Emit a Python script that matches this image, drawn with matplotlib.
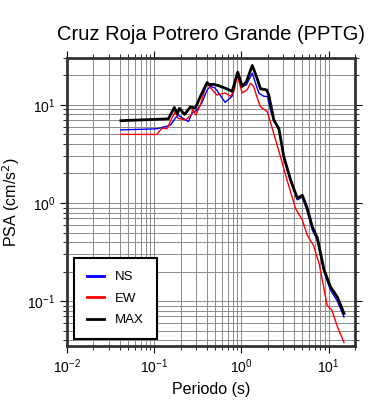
import matplotlib
matplotlib.use('Agg')
import matplotlib.pyplot as plt
from matplotlib.ticker import LogLocator, NullFormatter

plt.rcParams['font.family'] = ['Liberation Sans', 'DejaVu Sans']

# periodo (s) y PSA (cm/s2)
t_max = [0.0414, 0.145, 0.170, 0.184, 0.194, 0.223, 0.259, 0.296, 0.338, 0.404,
         0.428, 0.477, 0.544, 0.685, 0.782, 0.906, 1.02, 1.14, 1.33, 1.51,
         1.65, 1.94, 2.06, 2.35, 2.69, 3.06, 3.66, 4.37, 4.99, 5.69,
         6.50, 7.42, 8.84, 10.5, 12.6, 15.0]
psa_max = [6.9, 7.2, 9.4, 8.1, 9.2, 8.0, 9.5, 9.3, 12.2, 16.9,
           16.0, 16.2, 15.7, 14.5, 13.7, 21.6, 15.4, 17.3, 25.2, 18.7,
           14.6, 14.2, 12.6, 7.0, 5.7, 2.97, 1.72, 1.12, 1.2, 0.88,
           0.57, 0.44, 0.21, 0.14, 0.11, 0.075]

t_ns = [0.0414, 0.107, 0.153, 0.186, 0.208, 0.247, 0.270, 0.31, 0.35, 0.404,
        0.44, 0.50, 0.65, 0.78, 0.89, 1.02, 1.14, 1.33, 1.58, 1.81,
        1.98, 2.2, 2.69, 3.06, 3.66, 4.37, 4.99, 5.69, 6.50, 7.42,
        8.84, 10.5, 12.6, 15.0]
psa_ns = [5.56, 5.7, 6.2, 7.9, 7.4, 6.76, 8.2, 8.9, 10.4, 14.2,
          15.4, 14.8, 10.6, 12.2, 20.2, 15.4, 16.0, 21.0, 13.2, 12.2,
          12.2, 8.2, 5.5, 2.9, 1.68, 1.08, 1.15, 0.82, 0.53, 0.42,
          0.2, 0.13, 0.1, 0.069]

t_ew = [0.0414, 0.107, 0.123, 0.14, 0.153, 0.174, 0.187, 0.227, 0.266, 0.275,
        0.30, 0.338, 0.40, 0.44, 0.52, 0.65, 0.75, 0.83, 0.89, 1.02,
        1.16, 1.27, 1.38, 1.51, 1.65, 1.98, 2.25, 2.8, 3.33, 4.17,
        4.99, 5.69, 6.7, 7.8, 9.6, 10.9, 12.6, 15.0]
psa_ew = [5.0, 5.0, 5.8, 5.7, 6.8, 8.5, 7.3, 7.0, 7.9, 9.0,
          7.9, 10.0, 16.6, 15.0, 12.6, 13.2, 12.2, 14.2, 20.2, 13.2,
          14.2, 16.6, 15.4, 11.9, 9.6, 8.5, 5.8, 2.97, 1.72, 0.88,
          0.67, 0.47, 0.37, 0.24, 0.091, 0.081, 0.055, 0.038]

fig = plt.figure(figsize=(3.9, 4.0), dpi=100)
ax = fig.add_axes([0.172, 0.135, 0.738, 0.72])

ax.loglog(t_ns, psa_ns, color='blue', lw=1.0, label='NS')
ax.loglog(t_ew, psa_ew, color='red', lw=1.0, label='EW')
ax.loglog(t_max, psa_max, color='black', lw=2.0, label='MAX')

ax.set_xlim(0.01, 20)
ax.set_ylim(0.035, 30)

ax.xaxis.set_major_locator(LogLocator(base=10, numticks=10))
ax.xaxis.set_minor_locator(LogLocator(base=10, subs=range(2, 10), numticks=20))
ax.yaxis.set_minor_locator(LogLocator(base=10, subs=range(2, 10), numticks=20))
ax.xaxis.set_minor_formatter(NullFormatter())
ax.yaxis.set_minor_formatter(NullFormatter())

ax.grid(True, which='both', color='#8c8c8c', lw=0.7)
ax.set_axisbelow(True)
ax.tick_params(which='both', direction='out', top=True, right=True, labelsize=10)
ax.tick_params(which='major', length=5)
ax.tick_params(which='minor', length=3)
for s in ax.spines.values():
    s.set_linewidth(2)
    s.set_color('#333333')

ax.set_title('Cruz Roja Potrero Grande (PPTG)', fontsize=14.5, pad=13)
ax.set_xlabel('Periodo (s)', fontsize=11.5)
ax.set_ylabel('PSA (cm/s$^2$)', fontsize=11.5)

leg = ax.legend(loc='lower left', fontsize=9.5, fancybox=False, framealpha=1,
                edgecolor='black', handlelength=1.3, borderpad=1.0,
                labelspacing=0.7, borderaxespad=0.5)
leg.get_frame().set_linewidth(1.5)
for line in leg.get_lines():
    line.set_linewidth(2)

fig.savefig('out.png', dpi=100)
